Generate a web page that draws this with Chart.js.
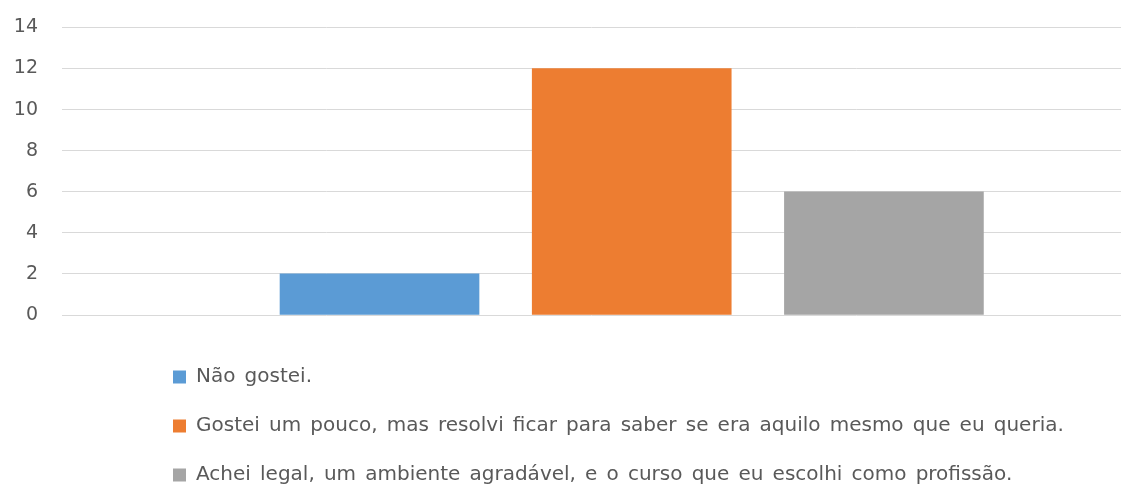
<!DOCTYPE html>
<html>
<head>
<meta charset="utf-8">
<script src="https://cdn.jsdelivr.net/npm/chart.js@4.4.0/dist/chart.umd.min.js"></script>
<style>
  html, body { margin: 0; padding: 0; background: #fff; }
  #wrap { width: 1121px; height: 485px; }
</style>
</head>
<body>
<div id="wrap"><canvas id="myChart"></canvas></div>
<script>
// answers and how many people picked each one
var answers = [
    "Não gostei.",
    "Gostei um pouco, mas resolvi ficar para saber se era aquilo mesmo que eu queria.",
    "Achei legal, um ambiente agradável, e o curso que eu escolhi como profissão."
];
var counts = [2, 12, 6];
var barColors = ["#5B9BD5", "#ED7D31", "#A5A5A5"];
var yTicks = [0, 2, 4, 6, 8, 10, 12, 14];

// one dataset per answer so each one gets its own legend row
var datasets = answers.map(function (a, i) {
    return {
        label: a,
        data: [{ x: i, y: counts[i] }],
        backgroundColor: barColors[i],
        borderWidth: 0,
        barThickness: 199,
        grouped: false
    };
});

// a bit wider gaps between words, set before measuring and before drawing
var wideWords = {
    id: "wideWords",
    beforeLayout: function (chart) { chart.ctx.wordSpacing = "2.8px"; },
    beforeDraw: function (chart) { chart.ctx.wordSpacing = "2.8px"; }
};

// legend sits further right and lower than chart.js puts it
var legendOffset = {
    id: "legendOffset",
    afterLayout: function (chart) {
        var lg = chart.legend;
        lg.left += 82; lg.right += 82;
        lg.top += 23; lg.bottom += 23;
    }
};

Chart.defaults.font.family = "'DejaVu Sans', sans-serif";
Chart.defaults.color = "#595959";

window.myChart = new Chart("myChart", {
    type: "bar",
    data: { datasets: datasets },
    plugins: [wideWords, legendOffset],
    options: {
        responsive: true,
        maintainAspectRatio: false,
        animation: false,
        layout: { padding: { top: 0, left: 0, right: 0, bottom: 13 } },
        scales: {
            x: {
                type: "linear",
                display: false,
                offset: false,
                bounds: "data",
                min: -1.259,
                max: 2.94
            },
            y: {
                min: 0,
                max: 14,
                afterBuildTicks: function (s) {
                    s.ticks = yTicks.map(function (v) { return { value: v }; });
                },
                afterFit: function (s) { s.width = 62; },
                border: { display: false },
                grid: {
                    color: "#d9d9d9",
                    lineWidth: 1,
                    drawTicks: true,
                    tickLength: 8,
                    tickColor: "rgba(0,0,0,0)"
                },
                ticks: { padding: 16, font: { size: 19 }, color: "#595959" }
            }
        },
        plugins: {
            tooltip: { enabled: false },
            legend: {
                position: "bottom",
                align: "start",
                fullSize: false,
                labels: {
                    boxWidth: 13,
                    boxHeight: 13,
                    padding: 29,
                    font: { size: 20 },
                    color: "#595959"
                }
            }
        }
    }
});
</script>
</body>
</html>
